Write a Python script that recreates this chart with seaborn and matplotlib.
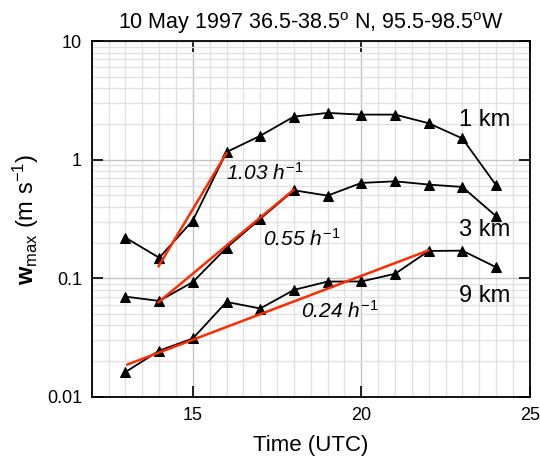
import pandas as pd
import matplotlib
matplotlib.use('Agg')
import matplotlib.pyplot as plt
import matplotlib.ticker as mticker
import seaborn as sns

# =============================================================================
# Data
# =============================================================================
hours = [13, 14, 15, 16, 17, 18, 19, 20, 21, 22, 23, 24]
w_1km = [0.22, 0.149, 0.307, 1.16, 1.59, 2.31, 2.48, 2.40, 2.40, 2.03, 1.51, 0.61]
w_3km = [0.070, 0.0644, 0.093, 0.181, 0.317, 0.552, 0.498, 0.637, 0.657, 0.617, 0.589, 0.334]
w_9km = [0.0162, 0.0245, 0.0311, 0.0632, 0.0556, 0.0798, 0.0938, 0.094, 0.109, 0.170, 0.171, 0.124]

# red growth-rate fits (end points)
fit1_x = [13.98, 16.0]
fit1_y = [0.126, 1.14]
fit3_x = [13.97, 18.0]
fit3_y = [0.0625, 0.56]
fit9_x = [13.05, 22.0]
fit9_y = [0.0187, 0.172]

level_labels = ['1 km', '3 km', '9 km']
level_x = [23.65, 23.65, 23.65]
level_y = [2.17, 0.255, 0.071]

rate_labels = ['1.03 $h^{-1}$', '0.55 $h^{-1}$', '0.24 $h^{-1}$']
rate_x = [17.13, 18.22, 19.36]
rate_y = [0.78, 0.215, 0.053]

df = pd.DataFrame({
    'time': hours * 3,
    'w': w_1km + w_3km + w_9km,
    'level': ['1 km'] * 12 + ['3 km'] * 12 + ['9 km'] * 12,
})

# =============================================================================
# Plot
# =============================================================================
sns.set_style('white')
fnt = 'Liberation Sans'
plt.rcParams['font.family'] = [fnt, 'DejaVu Sans']
plt.rcParams['mathtext.fontset'] = 'custom'
plt.rcParams['mathtext.rm'] = fnt
plt.rcParams['mathtext.it'] = fnt + ':italic'
plt.rcParams['mathtext.bf'] = fnt + ':bold'
for k in ['text.color', 'axes.labelcolor', 'xtick.color', 'ytick.color']:
    plt.rcParams[k] = 'black'

fig = plt.figure(figsize=(5.4, 4.62), dpi=100)
ax = fig.add_axes([0.170, 0.141, 0.811, 0.770])

for lev in level_labels:
    sub = df[df['level'] == lev]
    sns.lineplot(data=sub, x='time', y='w', ax=ax, color='black', lw=1.3,
                 marker='^', markersize=6.5, markeredgecolor='black', zorder=3)

for fx, fy in [(fit1_x, fit1_y), (fit3_x, fit3_y), (fit9_x, fit9_y)]:
    ax.plot(fx, fy, color='#ff2a00', lw=1.8, zorder=4)

ax.set_yscale('log')
ax.set_xlim(12, 25)
ax.set_ylim(0.01, 10)

ax.xaxis.set_major_locator(mticker.FixedLocator([15, 20, 25]))
ax.xaxis.set_minor_locator(mticker.MultipleLocator(0.5))
ax.yaxis.set_major_locator(mticker.FixedLocator([0.01, 0.1, 1, 10]))
ax.yaxis.set_minor_locator(mticker.LogLocator(base=10, subs=range(2, 10)))
ax.yaxis.set_major_formatter(mticker.FuncFormatter(lambda v, p: '%g' % v))
ax.yaxis.set_minor_formatter(mticker.NullFormatter())

ax.grid(which='minor', color='#e2e2e2', lw=1.0, zorder=0)
ax.grid(which='major', color='#c4c4c4', lw=1.0, zorder=0)
ax.set_axisbelow(True)

ax.tick_params(which='major', direction='in', length=8, width=1.2,
               bottom=True, left=True, top=True, right=True,
               labelsize=13, pad=7)
ax.tick_params(which='minor', length=0)
for s in ax.spines.values():
    s.set_color('black')
    s.set_linewidth(1.3)

for lab, x, y in zip(level_labels, level_x, level_y):
    ax.text(x, y, lab, fontsize=17, ha='center', va='center')
for lab, x, y in zip(rate_labels, rate_x, rate_y):
    ax.text(x, y, lab, fontsize=15, ha='center', va='center', style='italic')

ax.set_xlabel('Time (UTC)', fontsize=16, labelpad=8)
ax.set_ylabel(r'$\mathbf{w}_{\mathrm{max}}$ (m s$^{\mathrm{-1}}$)', fontsize=17, labelpad=4)
ax.set_title(r'10 May 1997 36.5-38.5$^{\mathrm{o}}$ N, 95.5-98.5$^{\mathrm{o}}$W',
             fontsize=15.5, pad=9)

plt.savefig('out.png', dpi=100)
